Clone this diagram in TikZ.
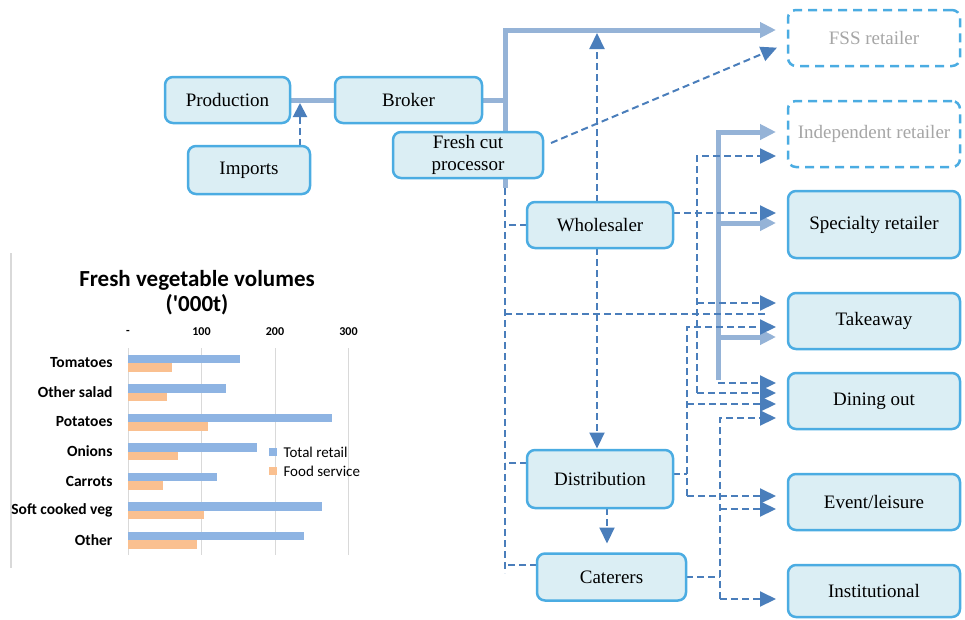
\documentclass[tikz,border=0pt]{standalone}
\usepackage{fontspec}
\setmainfont{Liberation Serif}
\newfontfamily\chartfont{Carlito}
\usetikzlibrary{positioning, arrows.meta, backgrounds}

\definecolor{boxline}{RGB}{75,172,226}
\definecolor{boxfill}{RGB}{219,238,244}
\definecolor{flowblue}{RGB}{149,179,215}
\definecolor{linkblue}{RGB}{74,126,187}
\definecolor{ghostgray}{RGB}{166,166,166}
\definecolor{retailbar}{RGB}{142,180,227}
\definecolor{foodbar}{RGB}{250,192,144}
\definecolor{gridgray}{RGB}{217,217,217}

\begin{document}
\begin{tikzpicture}[x=1pt, y=-1pt, node distance=35pt,
    box/.style={draw=boxline, fill=boxfill, line width=2.5pt, rounded corners=8pt, outer sep=0pt, inner sep=2pt,
        minimum width=172pt, minimum height=56pt, align=center, font=\fontsize{19}{22}\selectfont},
    ghost/.style={box, fill=white, dash pattern=on 9pt off 6pt, text=ghostgray},
    flow/.style={draw=flowblue, line width=5pt},
    link/.style={draw=linkblue, line width=2pt, dash pattern=on 7pt off 4pt},
    arr/.style={-{Triangle[length=16pt,width=15pt]}, shorten >=12pt},
    chartlabel/.style={font=\chartfont\bfseries\fontsize{15.5}{17}\selectfont}]
    \useasboundingbox (0,0) rectangle (965,619);

    \node[box, minimum width=125pt, minimum height=46pt] (production) at (227.5,100) {Production};
    \node[box, minimum width=147pt, minimum height=46pt, right=45pt of production] (broker) {Broker};
    \node[box, minimum width=122pt, minimum height=48pt] (imports) at (249,170) {Imports};
    \node[box, minimum width=150pt, minimum height=46pt] (fresh cut) at (468,155) {Fresh cut\\processor};
    \node[box, minimum width=146pt, minimum height=46pt] (wholesaler) at (600,225) {Wholesaler};
    \node[box, minimum width=146pt, minimum height=58pt] (distribution) at (600,479) {Distribution};
    \node[box, minimum width=149pt, minimum height=47pt] (caterers) at (611.5,577) {Caterers};

    \node[ghost] (fss) at (874,38) {FSS retailer};
    \node[ghost, minimum height=66pt, below=of fss] (independent) {Independent retailer};
    \node[box, minimum height=67pt, below=24pt of independent] (specialty) {Specialty retailer};
    \node[box, below=of specialty] (takeaway) {Takeaway};
    \node[box, below=24pt of takeaway] (dining) {Dining out};
    \node[box, below=45pt of dining] (event) {Event/leisure};
    \node[box, minimum height=52pt, below=of event] (institutional) {Institutional};

    \coordinate (split) at (505,100);
    \coordinate (trunk end) at (505,188);
    \coordinate (left end) at (505,573);
    \coordinate (imports in) at (300,100);
    \coordinate (wholesaler up) at (597,30);
    \coordinate (bus top) at (718,132);
    \coordinate (bus end) at (718,380);
    \coordinate (ws bus) at (697,393);
    \coordinate (dist bus) at (687,496);
    \coordinate (cat bus) at (720,599);

    \begin{scope}[on background layer]
        \draw[flow] (production) -- (broker);
        \draw[flow] (broker) -- (split);
        \draw[flow, arr] (trunk end) |- ([yshift=8pt]fss.west);
        \draw[flow, arr] (bus end) |- ([yshift=2pt]independent.west);
        \draw[flow, arr] ([yshift=1.5pt]specialty.west -| bus end) -- ([yshift=1.5pt]specialty.west);
        \draw[flow, arr] ([yshift=-16pt]takeaway.west -| bus end) -- ([yshift=-16pt]takeaway.west);

        \draw[link, -{Triangle[length=14pt,width=14pt]}, shorten >=3pt] (imports.north -| imports in) -- (imports in);
        \draw[link, arr] ([xshift=8pt,yshift=12pt]fresh cut.east) -- ([yshift=-5pt]fss.west);
        \draw[link, arr, shorten >=3pt] ([xshift=-3pt]wholesaler.north) -- (wholesaler up);
        \draw[link, arr, shorten >=1.5pt] ([xshift=-3pt]wholesaler.south) -- ([xshift=-3pt]distribution.north);
        \draw[link, arr, shorten >=10pt] ([xshift=7pt]distribution.south) -- ([xshift=7pt]distribution.south |- caterers.north);

        \draw[link] (trunk end) -- (left end);
        \draw[link] (wholesaler.west) -- (wholesaler.west -| left end);
        \draw[link] ([yshift=16pt]distribution.west) -- ([yshift=16pt]distribution.west -| left end);
        \draw[link] ([yshift=12pt]caterers.west) -- ([yshift=12pt]caterers.west -| left end);
        \draw[link] ([yshift=7pt]takeaway.west -| left end) -- ([xshift=-23pt,yshift=7pt]takeaway.west);

        \draw[link, arr] ([yshift=12pt]wholesaler.east) -- ([yshift=12pt]wholesaler.east -| specialty.west);
        \draw[link, arr] (ws bus) |- ([yshift=-22pt]independent.west);
        \draw[link, arr] ([yshift=18pt]takeaway.west -| ws bus) -- ([yshift=18pt]takeaway.west);
        \draw[link, arr] (ws bus) -- ([yshift=8pt]dining.west);
        \draw[link, arr] ([yshift=18pt]dining.west -| bus end) -- ([yshift=18pt]dining.west);

        \draw[link] ([yshift=5pt]distribution.east) -- ([yshift=5pt]distribution.east -| dist bus);
        \draw[link, arr] (dist bus) |- ([yshift=-6pt]takeaway.west);
        \draw[link, arr] ([yshift=-3pt]dining.west -| dist bus) -- ([yshift=-3pt]dining.west);
        \draw[link, arr] (dist bus) -- ([yshift=6pt]event.west);

        \draw[link] (caterers.east) -- (caterers.east -| cat bus);
        \draw[link, arr] (cat bus) |- ([yshift=-17pt]dining.west);
        \draw[link, arr] ([yshift=-7pt]event.west -| cat bus) -- ([yshift=-7pt]event.west);
        \draw[link, arr] (cat bus) -- ([yshift=-8pt]institutional.west);
    \end{scope}

    \draw[gridgray, line width=1.2pt] (11,253) -- (11,568);
    \node[font=\chartfont\bfseries\fontsize{23}{25}\selectfont, align=center] (chart title) at (197,293) {Fresh vegetable volumes\\('000t)};
    \foreach \v [count=\k from 0] in {-,100,200,300} {
        \draw[gridgray, line width=1pt] (128+73.5*\k,348) -- (128+73.5*\k,555);
        \node[font=\chartfont\bfseries\fontsize{12}{14}\selectfont] (tick \k) at (128+73.5*\k,332) {\v};
    }
    \foreach \veg/\ret/\fs [count=\i from 0] in {Tomatoes/152/60, Other salad/133/53, Potatoes/278/109, Onions/176/68,
        Carrots/121/48, Soft cooked veg/264/103, Other/240/94} {
        \pgfmathsetmacro\yc{363+29.5*\i}
        \fill[retailbar] (128,\yc-8.5) rectangle (128+0.735*\ret,\yc);
        \fill[foodbar] (128,\yc) rectangle (128+0.735*\fs,\yc+8.5);
        \node[chartlabel, anchor=east] (veg \i) at (116,\yc) {\veg};
    }
    \fill[retailbar] (269,448) rectangle (277,456);
    \node[anchor=west, font=\chartfont\fontsize{15}{17}\selectfont] (retail key) at (280,452) {Total retail};
    \fill[foodbar] (269,467) rectangle (277,475);
    \node[anchor=west, font=\chartfont\fontsize{15}{17}\selectfont] (food key) at (280,471) {Food service};
\end{tikzpicture}
\end{document}
